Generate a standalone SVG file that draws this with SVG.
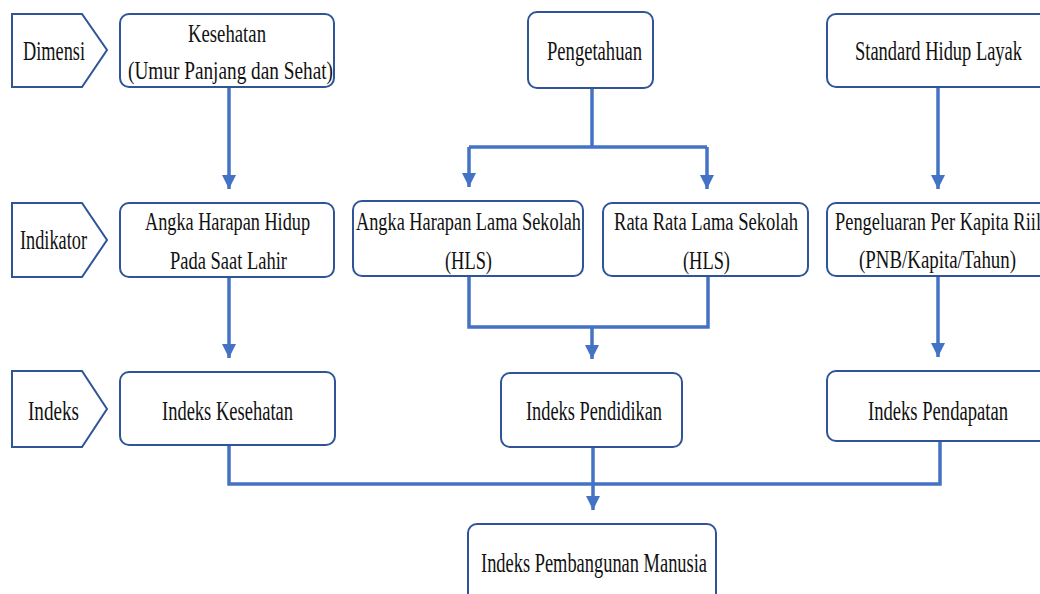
<svg xmlns="http://www.w3.org/2000/svg" width="1040" height="594" viewBox="0 0 1040 594">
<style>
.box{fill:#fff;stroke:#2F5597;stroke-width:2}
text{font-family:"Liberation Serif",serif;fill:#111;text-anchor:middle}
.s{font-size:27px}
.d{font-size:25px}
.c{fill:none;stroke:#4472C4;stroke-width:3.5}
</style>
<defs>
<marker id="ah" markerUnits="userSpaceOnUse" markerWidth="14" markerHeight="16" refX="14" refY="7" orient="auto">
<path d="M0,0 L14,7 L0,14 Z" fill="#4472C4"/>
</marker>
</defs>
<rect width="1040" height="594" fill="#fff"/>
<g id="connectors">
<path class="c" d="M229,87 V189" marker-end="url(#ah)"/>
<path class="c" d="M592,88 V147"/>
<path class="c" d="M469,147 H707"/>
<path class="c" d="M469,147 V187" marker-end="url(#ah)"/>
<path class="c" d="M707,147 V189" marker-end="url(#ah)"/>
<path class="c" d="M938,87 V189" marker-end="url(#ah)"/>
<path class="c" d="M229,277 V358" marker-end="url(#ah)"/>
<path class="c" d="M469,276 V327 H708 V276"/>
<path class="c" d="M592,327 V359" marker-end="url(#ah)"/>
<path class="c" d="M938,276 V357" marker-end="url(#ah)"/>
<path class="c" d="M229,445 V484 H940 V441"/>
<path class="c" d="M593,447 V510" marker-end="url(#ah)"/>
</g>
<g id="label-dimensi">
<polygon class="box" points="12,14 82,14 107,50 82,87 12,87"/>
<text class="s" x="54" y="60" textLength="62" lengthAdjust="spacingAndGlyphs">Dimensi</text>
</g>
<g id="label-indikator">
<polygon class="box" points="12,203 82,203 107,240 82,277 12,277"/>
<text class="s" x="53.5" y="249" textLength="67" lengthAdjust="spacingAndGlyphs">Indikator</text>
</g>
<g id="label-indeks">
<polygon class="box" points="12,371 82,371 107,409 82,447 12,447"/>
<text class="s" x="53.5" y="420" textLength="51" lengthAdjust="spacingAndGlyphs">Indeks</text>
</g>
<g id="kesehatan">
<rect class="box" x="120" y="14" width="214" height="73" rx="9"/>
<text class="d" x="227" y="42" textLength="78" lengthAdjust="spacingAndGlyphs">Kesehatan</text>
<text class="d" x="230.5" y="79" textLength="205" lengthAdjust="spacingAndGlyphs">(Umur Panjang dan Sehat)</text>
</g>
<g id="pengetahuan">
<rect class="box" x="528" y="12" width="125" height="76" rx="9"/>
<text class="s" x="594.5" y="60" textLength="95" lengthAdjust="spacingAndGlyphs">Pengetahuan</text>
</g>
<g id="standard-hidup-layak">
<rect class="box" x="827" y="14" width="230" height="73" rx="9"/>
<text class="s" x="938.5" y="60" textLength="167" lengthAdjust="spacingAndGlyphs">Standard Hidup Layak</text>
</g>
<g id="ahh">
<rect class="box" x="120" y="203" width="214" height="74" rx="9"/>
<text class="d" x="227.5" y="230" textLength="165" lengthAdjust="spacingAndGlyphs">Angka Harapan Hidup</text>
<text class="d" x="228.5" y="269" textLength="117" lengthAdjust="spacingAndGlyphs">Pada Saat Lahir</text>
</g>
<g id="ahls">
<rect class="box" x="353" y="201" width="230" height="75" rx="9"/>
<text class="d" x="468.5" y="230" textLength="225" lengthAdjust="spacingAndGlyphs">Angka Harapan Lama Sekolah</text>
<text class="d" x="468.5" y="269" textLength="47" lengthAdjust="spacingAndGlyphs">(HLS)</text>
</g>
<g id="rrls">
<rect class="box" x="603" y="203" width="205" height="73" rx="9"/>
<text class="d" x="706" y="230" textLength="184" lengthAdjust="spacingAndGlyphs">Rata Rata Lama Sekolah</text>
<text class="d" x="706.5" y="269" textLength="47" lengthAdjust="spacingAndGlyphs">(HLS)</text>
</g>
<g id="pengeluaran">
<rect class="box" x="827" y="203" width="230" height="73" rx="9"/>
<text class="d" x="835" y="230" style="text-anchor:start" textLength="206" lengthAdjust="spacingAndGlyphs">Pengeluaran Per Kapita Riil</text>
<text class="d" x="937.5" y="268" textLength="157" lengthAdjust="spacingAndGlyphs">(PNB/Kapita/Tahun)</text>
</g>
<g id="indeks-kesehatan">
<rect class="box" x="120" y="372" width="215" height="73" rx="9"/>
<text class="s" x="227.5" y="420" textLength="131" lengthAdjust="spacingAndGlyphs">Indeks Kesehatan</text>
</g>
<g id="indeks-pendidikan">
<rect class="box" x="501" y="373" width="181" height="74" rx="9"/>
<text class="s" x="594" y="420" textLength="136" lengthAdjust="spacingAndGlyphs">Indeks Pendidikan</text>
</g>
<g id="indeks-pendapatan">
<rect class="box" x="827" y="371" width="230" height="70" rx="9"/>
<text class="s" x="938" y="420" textLength="140" lengthAdjust="spacingAndGlyphs">Indeks Pendapatan</text>
</g>
<g id="ipm">
<rect class="box" x="468" y="524" width="248" height="90" rx="9"/>
<text class="s" x="594" y="572" textLength="226" lengthAdjust="spacingAndGlyphs">Indeks Pembangunan Manusia</text>
</g>
</svg>
